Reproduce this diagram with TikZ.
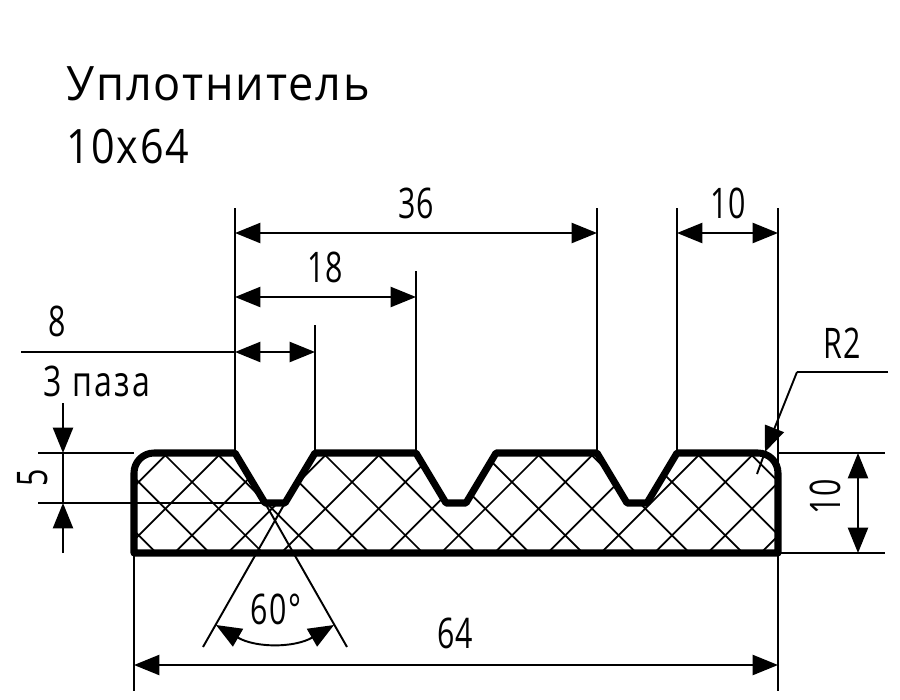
\documentclass[tikz,border=0pt]{standalone}
\usepackage{fontspec}
\setmainfont{Open Sans}[FakeStretch=0.72,LetterSpace=3]
\newfontfamily\titlefont{Open Sans}[FakeStretch=0.95,LetterSpace=4]
\newfontfamily\sizefont{Open Sans}[FakeStretch=0.87,LetterSpace=3.5]
\newfontfamily\groovefont{Open Sans}[FakeStretch=0.76,LetterSpace=5]
\usetikzlibrary{arrows.meta, positioning, calc}

\begin{document}
\begin{tikzpicture}[
    x=0.02cm, y=-0.02cm,
    thinline/.style={line width=1.1pt, color=black},
    dimline/.style={thinline, {Triangle[length=14.5pt,width=11.5pt]}-{Triangle[length=14.5pt,width=11.5pt]}},
    arrow/.style={thinline, -{Triangle[length=14.5pt,width=11.5pt]}},
    profile/.style={line width=4pt, line join=round},
    hatchline/.style={line width=1pt},
    label/.style={inner sep=0pt, font=\fontsize{24}{24}\selectfont},
    heading/.style={inner sep=0pt, anchor=west, font=\fontsize{27}{27}\selectfont}
]
\useasboundingbox (0,0) rectangle (900,700);

% Points of the profile
\coordinate (wallA) at (235,453);
\coordinate (wallB) at (315,453);
\coordinate (wallC) at (416,453);
\coordinate (wallD) at (597,453);
\coordinate (wallE) at (677,453);
\coordinate (cornerTL) at (134,453);
\coordinate (cornerTR) at (778,453);
\coordinate (cornerBL) at (134,553);
\coordinate (cornerBR) at (778,553);
\coordinate (grooveL) at (265,503);
\coordinate (grooveR) at (285,503);

% Hatching
\begin{scope}
\clip (cornerBL) [rounded corners=0.4cm] -- (cornerTL) [sharp corners] -- (wallA) -- (grooveL) -- (grooveR) -- (wallB)
    -- (wallC) -- (446,503) -- (466,503) -- (496,453) -- (wallD) -- (627,503) -- (647,503) -- (wallE)
    [rounded corners=0.4cm] -- (cornerTR) [sharp corners] -- (cornerBR) -- cycle;
\foreach \k in {-5,...,10} {
    \draw[hatchline] ({834+53.33*\k-440},440) -- ({834+53.33*\k-570},570);
}
\foreach \k in {-6,...,9} {
    \draw[hatchline] ({-130+53.33*\k+440},440) -- ({-130+53.33*\k+570},570);
}
\end{scope}

% Ends of the extension lines
\coordinate (topA) at (235,208);
\coordinate (topB) at (315,325);
\coordinate (topC) at (416,271);
\coordinate (topD) at (597,208);
\coordinate (topE) at (677,208);
\coordinate (topF) at (778,208);
\coordinate (lowF) at (778,691);
\coordinate (lowL) at (134,691);
\coordinate (extL5a) at (38,453);
\coordinate (extL5b) at (38,503);
\coordinate (extR10a) at (885,453);
\coordinate (extR10b) at (885,553);
\coordinate (apexL) at (203,647);
\coordinate (apexR) at (347,647);

% Extension lines
\draw[thinline] (topA) -- (wallA);
\draw[thinline] (topB) -- (wallB);
\draw[thinline] (topC) -- (wallC);
\draw[thinline] (topD) -- (wallD);
\draw[thinline] (topE) -- (wallE);
\draw[thinline] (topF) -- (lowF);
\draw[thinline] (cornerBL) -- (lowL);
\draw[thinline] (extL5a) -- (cornerTL);
\draw[thinline] (extL5b) -- (grooveL);
\draw[thinline] (cornerTR) -- (extR10a);
\draw[thinline] (cornerBR) -- (extR10b);
\draw[thinline] (apexL) -- (grooveR);
\draw[thinline] (apexR) -- (grooveL);

% Profile
\draw[profile] (cornerBL) [rounded corners=0.4cm] -- (cornerTL) [sharp corners] -- (wallA) -- (grooveL) -- (grooveR) -- (wallB)
    -- (wallC) -- (446,503) -- (466,503) -- (496,453) -- (wallD) -- (627,503) -- (647,503) -- (wallE)
    [rounded corners=0.4cm] -- (cornerTR) [sharp corners] -- (cornerBR) -- cycle;

% Dimension lines
\draw[dimline] (235,233) -- (597,233);
\draw[dimline] (677,233) -- (778,233);
\draw[dimline] (235,297) -- (416,297);
\draw[dimline] (235,352) -- (315,352);
\draw[thinline] (21,352) -- (235,352);
\draw[dimline] (134,665) -- (778,665);
\draw[dimline] (858,453) -- (858,553);
\draw[arrow] (63,403) -- (63,453);
\draw[arrow] (63,553) -- (63,503);
\draw[thinline] (63,453) -- (63,503);

% Angle
\coordinate (angleL) at (216,625);
\coordinate (angleR) at (334,625);
\draw[dimline] (angleL) to[bend right=30] (angleR);

% Radius leader
\coordinate (leaderEnd) at (888,372);
\coordinate (leaderBend) at (797,372);
\coordinate (leaderTip) at (765,452);
\coordinate (leaderTail) at (757,474);
\draw[thinline] (leaderEnd) -- (leaderBend);
\draw[arrow] (leaderBend) -- (leaderTip);
\draw[thinline] (leaderTip) -- (leaderTail);

% Labels
\node[heading, font=\fontsize{27}{27}\selectfont\titlefont] (title) at (66,84) {Уплотнитель};
\node[heading, font=\fontsize{27}{27}\selectfont\sizefont] (size) at (66,147) {10х64};
\node[label] (dim36) at (416,203) {36};
\node[label] (dim10top) at (728,203) {10};
\node[label] (dim18) at (325,267) {18};
\node[label] (dim8) at (57,321) {8};
\node[label, font=\fontsize{24}{24}\selectfont\groovefont] (grooves) at (97,381) {3 паза};
\node[label, rotate=90] (dim5) at (33,478) {5};
\node[label, rotate=90] (dim10) at (825,497) {10};
\node[label] (radius) at (842,343) {R2};
\node[label] (angle) at (276,609) {60°};
\node[label] (dim64) at (455,633) {64};

\end{tikzpicture}
\end{document}
